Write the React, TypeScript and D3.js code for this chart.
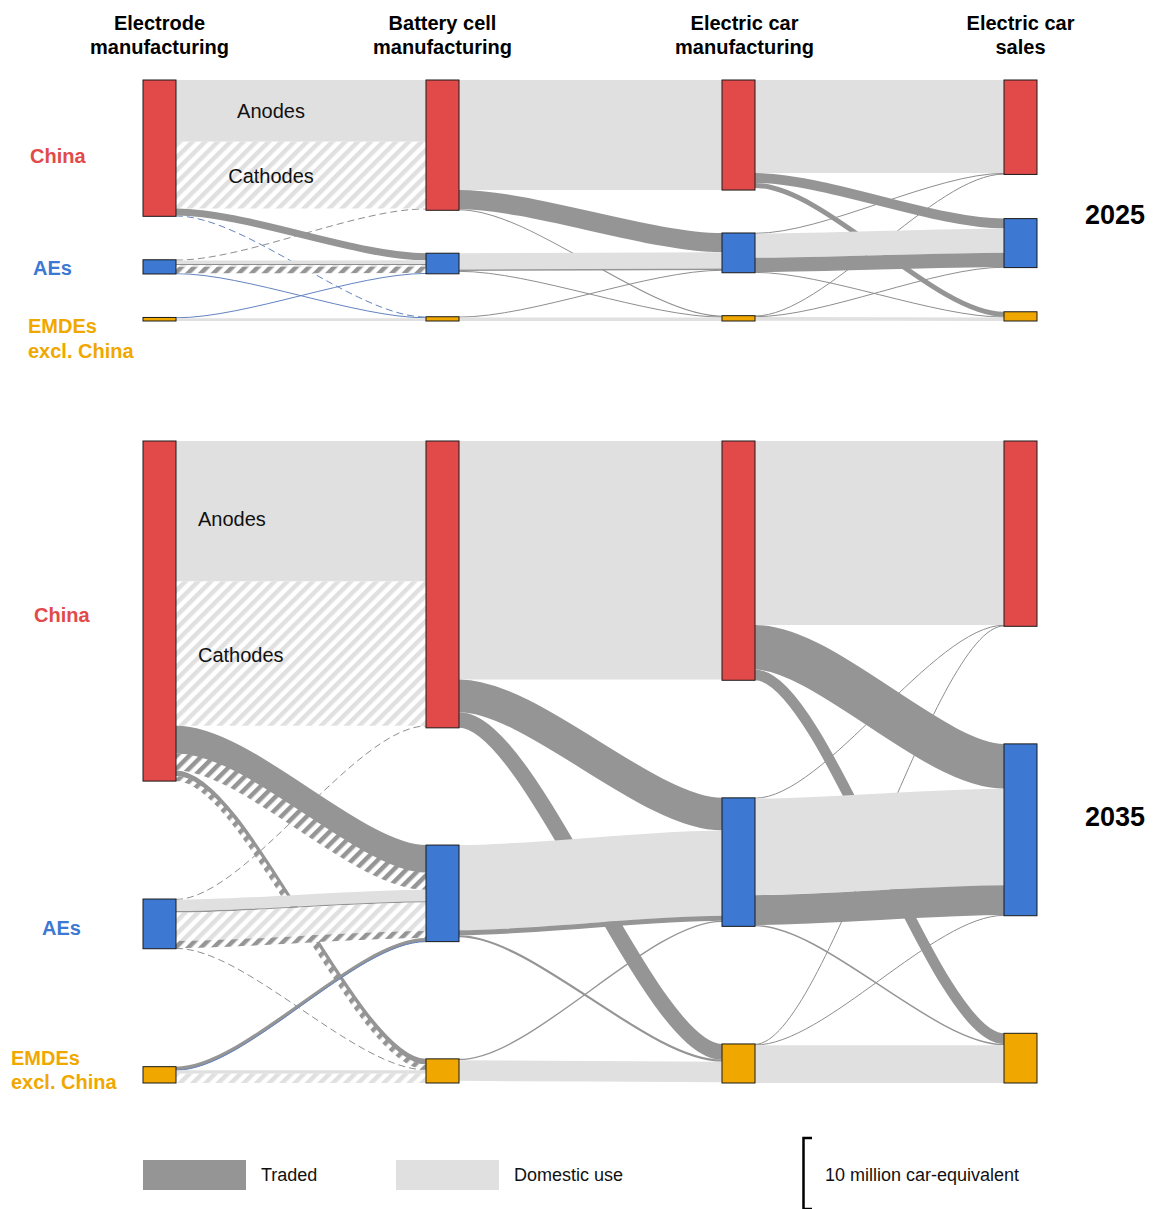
import React, { useEffect } from 'react';
import * as d3 from 'd3';

type Flow = [string, string, string, string, number]; // [from, to, material, trade, million car-equivalent]

const REGIONS = ['China', 'AEs', 'EMDEs'];
const REGION_LINES: Record<string, string[]> = { China: ['China'], AEs: ['AEs'], EMDEs: ['EMDEs', 'excl. China'] };
const STAGE_TITLES = [
  ['Electrode', 'manufacturing'],
  ['Battery cell', 'manufacturing'],
  ['Electric car', 'manufacturing'],
  ['Electric car', 'sales'],
];
const YEARS = ['2025', '2035'];
const MATERIAL_LABELS = ['Anodes', 'Cathodes'];
const LEGEND_ITEMS = [
  { label: 'Traded', trade: 'traded' },
  { label: 'Domestic use', trade: 'domestic' },
];
const SCALE_VALUE = 10;
const SCALE_LABEL = '10 million car-equivalent';

// ---- 2025 ----
const ELECTRODE_TO_CELL_2025: Flow[] = [
  ['China', 'China', 'anode', 'domestic', 8.7],
  ['China', 'China', 'cathode', 'domestic', 9.4],
  ['China', 'AEs', 'anode', 'traded', 1.0],
  ['China', 'EMDEs', 'cathode', 'traded', 0.1],
  ['AEs', 'China', 'cathode', 'traded', 0.1],
  ['AEs', 'AEs', 'anode', 'domestic', 0.5],
  ['AEs', 'AEs', 'anode', 'traded', 0.15],
  ['AEs', 'AEs', 'cathode', 'domestic', 0.25],
  ['AEs', 'AEs', 'cathode', 'traded', 0.9],
  ['AEs', 'EMDEs', 'anode', 'traded', 0.1],
  ['EMDEs', 'AEs', 'anode', 'traded', 0.1],
  ['EMDEs', 'EMDEs', 'anode', 'domestic', 0.4],
];
const CELL_TO_CAR_2025: Flow[] = [
  ['China', 'China', 'cell', 'domestic', 15.5],
  ['China', 'AEs', 'cell', 'traded', 2.7],
  ['China', 'EMDEs', 'cell', 'traded', 0.15],
  ['AEs', 'AEs', 'cell', 'domestic', 2.3],
  ['AEs', 'AEs', 'cell', 'traded', 0.2],
  ['AEs', 'EMDEs', 'cell', 'traded', 0.1],
  ['EMDEs', 'AEs', 'cell', 'traded', 0.1],
  ['EMDEs', 'EMDEs', 'cell', 'domestic', 0.5],
];
const CAR_TO_SALES_2025: Flow[] = [
  ['China', 'China', 'car', 'domestic', 13.1],
  ['China', 'AEs', 'car', 'traded', 1.4],
  ['China', 'EMDEs', 'car', 'traded', 0.7],
  ['AEs', 'China', 'car', 'traded', 0.1],
  ['AEs', 'AEs', 'car', 'domestic', 3.4],
  ['AEs', 'AEs', 'car', 'traded', 2.0],
  ['AEs', 'EMDEs', 'car', 'traded', 0.1],
  ['EMDEs', 'China', 'car', 'traded', 0.1],
  ['EMDEs', 'AEs', 'car', 'traded', 0.1],
  ['EMDEs', 'EMDEs', 'car', 'domestic', 0.5],
];

// ---- 2035 ----
const ELECTRODE_TO_CELL_2035: Flow[] = [
  ['China', 'China', 'anode', 'domestic', 19.8],
  ['China', 'China', 'cathode', 'domestic', 20.3],
  ['China', 'AEs', 'anode', 'traded', 3.9],
  ['China', 'AEs', 'cathode', 'traded', 2.4],
  ['China', 'EMDEs', 'anode', 'traded', 0.8],
  ['China', 'EMDEs', 'cathode', 'traded', 0.7],
  ['AEs', 'China', 'cathode', 'traded', 0.1],
  ['AEs', 'AEs', 'anode', 'domestic', 1.6],
  ['AEs', 'AEs', 'anode', 'traded', 0.2],
  ['AEs', 'AEs', 'cathode', 'domestic', 4.0],
  ['AEs', 'AEs', 'cathode', 'traded', 1.0],
  ['AEs', 'EMDEs', 'cathode', 'traded', 0.1],
  ['EMDEs', 'AEs', 'anode', 'traded', 0.5],
  ['EMDEs', 'EMDEs', 'anode', 'domestic', 0.5],
  ['EMDEs', 'EMDEs', 'cathode', 'domestic', 1.3],
];
const CELL_TO_CAR_2035: Flow[] = [
  ['China', 'China', 'cell', 'domestic', 33.6],
  ['China', 'AEs', 'cell', 'traded', 4.6],
  ['China', 'EMDEs', 'cell', 'traded', 2.2],
  ['AEs', 'AEs', 'cell', 'domestic', 12.0],
  ['AEs', 'AEs', 'cell', 'traded', 0.7],
  ['AEs', 'EMDEs', 'cell', 'traded', 0.3],
  ['EMDEs', 'AEs', 'cell', 'traded', 0.2],
  ['EMDEs', 'EMDEs', 'cell', 'domestic', 2.9],
];
const CAR_TO_SALES_2035: Flow[] = [
  ['China', 'China', 'car', 'domestic', 25.9],
  ['China', 'AEs', 'car', 'traded', 6.3],
  ['China', 'EMDEs', 'car', 'traded', 1.5],
  ['AEs', 'China', 'car', 'traded', 0.1],
  ['AEs', 'AEs', 'car', 'domestic', 13.6],
  ['AEs', 'AEs', 'car', 'traded', 4.2],
  ['AEs', 'EMDEs', 'car', 'traded', 0.2],
  ['EMDEs', 'China', 'car', 'traded', 0.1],
  ['EMDEs', 'AEs', 'car', 'traded', 0.1],
  ['EMDEs', 'EMDEs', 'car', 'domestic', 5.3],
];

const FLOWS_BY_YEAR: Record<string, Flow[][]> = {
  '2025': [ELECTRODE_TO_CELL_2025, CELL_TO_CAR_2025, CAR_TO_SALES_2025],
  '2035': [ELECTRODE_TO_CELL_2035, CELL_TO_CAR_2035, CAR_TO_SALES_2035],
};

// ---- layout & style (not data) ----
const W = 1153;
const H = 1209;
const FONT = '"Liberation Sans", Arial, Helvetica, sans-serif';
const COL_X = [143, 426, 722, 1004];
const NODE_W = 33;
const CURVE = 0.28;
const PANEL_LAYOUT: Record<string, { top: number; bottom: number; yearY: number }> = {
  '2025': { top: 80, bottom: 321, yearY: 215 },
  '2035': { top: 441, bottom: 1083, yearY: 817 },
};
const REGION_LABEL_LAYOUT: Record<string, Record<string, { x: number; dy: number }>> = {
  '2025': { China: { x: 30, dy: 8 }, AEs: { x: 33, dy: 1 }, EMDEs: { x: 28, dy: 7 } },
  '2035': { China: { x: 34, dy: 4 }, AEs: { x: 42, dy: 4 }, EMDEs: { x: 11, dy: -17 } },
};
const MATERIAL_LABEL_LAYOUT: Record<string, { x: number; anchor: string; dy: number[] }> = {
  '2025': { x: 271, anchor: 'middle', dy: [0, 1] },
  '2035': { x: 198, anchor: 'start', dy: [8, 1] },
};
const REGION_COLOR: Record<string, string> = { China: '#e24a4a', AEs: '#3d78d2', EMDEs: '#f0a800' };
const TRADE_COLOR: Record<string, string> = { traded: '#959595', domestic: '#e0e0e0' };
const THIN_COLOR: Record<string, string> = { traded: '#8e8e8e', domestic: '#cfcfcf' };
const ACCENT = '#6384c0';
const ACCENT_FLOWS = new Set([
  '2025-0-China-EMDEs-cathode',
  '2025-0-AEs-EMDEs-anode',
  '2025-0-EMDEs-AEs-anode',
  '2035-0-EMDEs-AEs-anode',
]);

const yScale = d3.scaleLinear().domain([0, 10]).range([0, 71]);

type NodeT = { region: string; col: number; x: number; h: number; y0: number };
type LinkT = { f: Flow; i: number; s: number; w: number; sy: number; ty: number; x0: number; x1: number };

function layoutPanel(stages: Flow[][], top: number, bottom: number) {
  const nodes: NodeT[][] = COL_X.map((x, c) =>
    REGIONS.map((r) => {
      const inSum = c > 0 ? d3.sum(stages[c - 1].filter((f) => f[1] === r), (f) => f[4]) : 0;
      const outSum = c < 3 ? d3.sum(stages[c].filter((f) => f[0] === r), (f) => f[4]) : 0;
      return { region: r, col: c, x, h: yScale(Math.max(inSum, outSum)), y0: 0 };
    })
  );
  nodes.forEach((col) => {
    const [cn, an, en] = col;
    cn.y0 = top;
    en.y0 = bottom - en.h;
    an.y0 = (cn.y0 + cn.h + en.y0) / 2 - an.h / 2;
  });
  const ri = (r: string) => REGIONS.indexOf(r);
  const links: LinkT[] = stages.flatMap((flows, s) => {
    const src = nodes[s];
    const tgt = nodes[s + 1];
    const items: LinkT[] = flows.map((f, i) => ({
      f, i, s, w: yScale(f[4]), sy: 0, ty: 0, x0: src[0].x + NODE_W, x1: tgt[0].x,
    }));
    REGIONS.forEach((r, k) => {
      let acc = src[k].y0;
      items
        .filter((d) => d.f[0] === r)
        .sort((a, b) => ri(a.f[1]) - ri(b.f[1]) || a.i - b.i)
        .forEach((d) => { d.sy = acc; acc += d.w; });
      let acc2 = tgt[k].y0;
      items
        .filter((d) => d.f[1] === r)
        .sort((a, b) => ri(a.f[0]) - ri(b.f[0]) || a.i - b.i)
        .forEach((d) => { d.ty = acc2; acc2 += d.w; });
    });
    return items;
  });
  return { nodes, links };
}

function ribbonPath(x0: number, y0: number, x1: number, y1: number) {
  const p = d3.path();
  const dx = (x1 - x0) * CURVE;
  p.moveTo(x0, y0);
  p.bezierCurveTo(x0 + dx, y0, x1 - dx, y1, x1, y1);
  return p.toString();
}

function Panel({ year }: { year: string }) {
  const lay = PANEL_LAYOUT[year];
  const { nodes, links } = layoutPanel(FLOWS_BY_YEAR[year], lay.top, lay.bottom);
  const THIN = 1.3;
  const thin = links.filter((l) => l.w < THIN);
  const thick = links.filter((l) => l.w >= THIN);
  const pathOf = (l: LinkT, off = 0) =>
    ribbonPath(l.x0, l.sy + l.w / 2 + off, l.x1, l.ty + l.w / 2 + off);
  const keyOf = (l: LinkT) => `${year}-${l.s}-${l.f[0]}-${l.f[1]}-${l.f[2]}`;

  const eChina = nodes[0][0];
  const matFlows = FLOWS_BY_YEAR[year][0].filter((f) => f[0] === 'China' && f[1] === 'China');
  const ml = MATERIAL_LABEL_LAYOUT[year];
  let accY = eChina.y0;
  const matLabels = matFlows.map((f, i) => {
    const h = yScale(f[4]);
    const cy = accY + h / 2;
    accY += h;
    return { text: MATERIAL_LABELS[i], y: cy + ml.dy[i] };
  });

  return (
    <g>
      {thin.map((l, i) => {
        const accent = ACCENT_FLOWS.has(keyOf(l));
        return (
          <path
            key={'t' + i}
            d={pathOf(l)}
            fill="none"
            stroke={accent ? ACCENT : THIN_COLOR[l.f[3]]}
            strokeWidth={Math.max(1, l.w)}
            strokeDasharray={l.f[2] === 'cathode' ? '7 4' : undefined}
          />
        );
      })}
      {thick.map((l, i) => {
        const hatched = l.f[2] === 'cathode';
        const stroke = hatched ? `url(#hatch-${l.f[3]})` : TRADE_COLOR[l.f[3]];
        const accent = ACCENT_FLOWS.has(keyOf(l));
        return (
          <g key={'k' + i}>
            <path d={pathOf(l)} fill="none" stroke={stroke} strokeWidth={l.w} />
            {accent && <path d={pathOf(l, l.w / 2)} fill="none" stroke={ACCENT} strokeWidth={1} />}
          </g>
        );
      })}
      {nodes.flat().map((n, i) => (
        <rect
          key={'n' + i}
          x={n.x}
          y={n.y0}
          width={NODE_W}
          height={Math.max(n.h, 3)}
          fill={REGION_COLOR[n.region]}
          stroke="#1a1a1a"
          strokeWidth={1}
        />
      ))}
      {matLabels.map((m, i) => (
        <text
          key={'m' + i}
          x={ml.x}
          y={m.y}
          textAnchor={ml.anchor as any}
          dominantBaseline="central"
          fontFamily={FONT}
          fontSize={20}
          fill="#111"
        >
          {m.text}
        </text>
      ))}
      {REGIONS.map((r, k) => {
        const n = nodes[0][k];
        const pos = REGION_LABEL_LAYOUT[year][r];
        const cy = n.y0 + n.h / 2 + pos.dy;
        return (
          <text
            key={'r' + k}
            x={pos.x}
            fontFamily={FONT}
            fontSize={20}
            fontWeight="bold"
            fill={REGION_COLOR[r]}
            dominantBaseline="central"
          >
            {REGION_LINES[r].map((line, j) => (
              <tspan key={j} x={pos.x} y={cy + j * 24.5}>
                {line}
              </tspan>
            ))}
          </text>
        );
      })}
      <text
        x={1115}
        y={lay.yearY}
        textAnchor="middle"
        dominantBaseline="central"
        fontFamily={FONT}
        fontSize={27}
        fontWeight="bold"
        fill="#000"
      >
        {year}
      </text>
    </g>
  );
}

export default function App() {
  useEffect(() => {
    document.body.style.margin = '0';
    document.body.style.overflow = 'hidden';
  }, []);
  const scaleTop = 1138;
  const scaleH = yScale(SCALE_VALUE);
  return (
    <svg
      width={W}
      height={H}
      viewBox={`0 0 ${W} ${H}`}
      style={{ position: 'absolute', left: 0, top: 0, display: 'block', background: '#fff' }}
    >
      <defs>
        {Object.keys(TRADE_COLOR).map((t) => (
          <pattern
            key={t}
            id={`hatch-${t}`}
            patternUnits="userSpaceOnUse"
            width={9}
            height={9}
            patternTransform="rotate(45)"
          >
            <rect x={0} y={0} width={9} height={9} fill="#fff" />
            <rect x={0} y={0} width={4.5} height={9} fill={TRADE_COLOR[t]} />
          </pattern>
        ))}
      </defs>
      {STAGE_TITLES.map((lines, c) => (
        <text
          key={c}
          x={COL_X[c] + NODE_W / 2 + (c === 2 ? 6 : 0)}
          textAnchor="middle"
          fontFamily={FONT}
          fontSize={20}
          fontWeight="bold"
          fill="#000"
        >
          {lines.map((l, j) => (
            <tspan key={j} x={COL_X[c] + NODE_W / 2 + (c === 2 ? 6 : 0)} y={30 + j * 24}>
              {l}
            </tspan>
          ))}
        </text>
      ))}
      {YEARS.map((y) => (
        <Panel key={y} year={y} />
      ))}
      {LEGEND_ITEMS.map((it, i) => (
        <g key={it.label} transform={`translate(${143 + i * 253},1160)`}>
          <rect width={103} height={30} fill={TRADE_COLOR[it.trade]} />
          <text x={118} y={15} dominantBaseline="central" fontFamily={FONT} fontSize={18} fill="#111">
            {it.label}
          </text>
        </g>
      ))}
      <path
        d={`M812,${scaleTop} H803.5 V${scaleTop + scaleH} H812`}
        fill="none"
        stroke="#000"
        strokeWidth={2.5}
      />
      <text x={825} y={1175} dominantBaseline="central" fontFamily={FONT} fontSize={18} fill="#111">
        {SCALE_LABEL}
      </text>
    </svg>
  );
}
